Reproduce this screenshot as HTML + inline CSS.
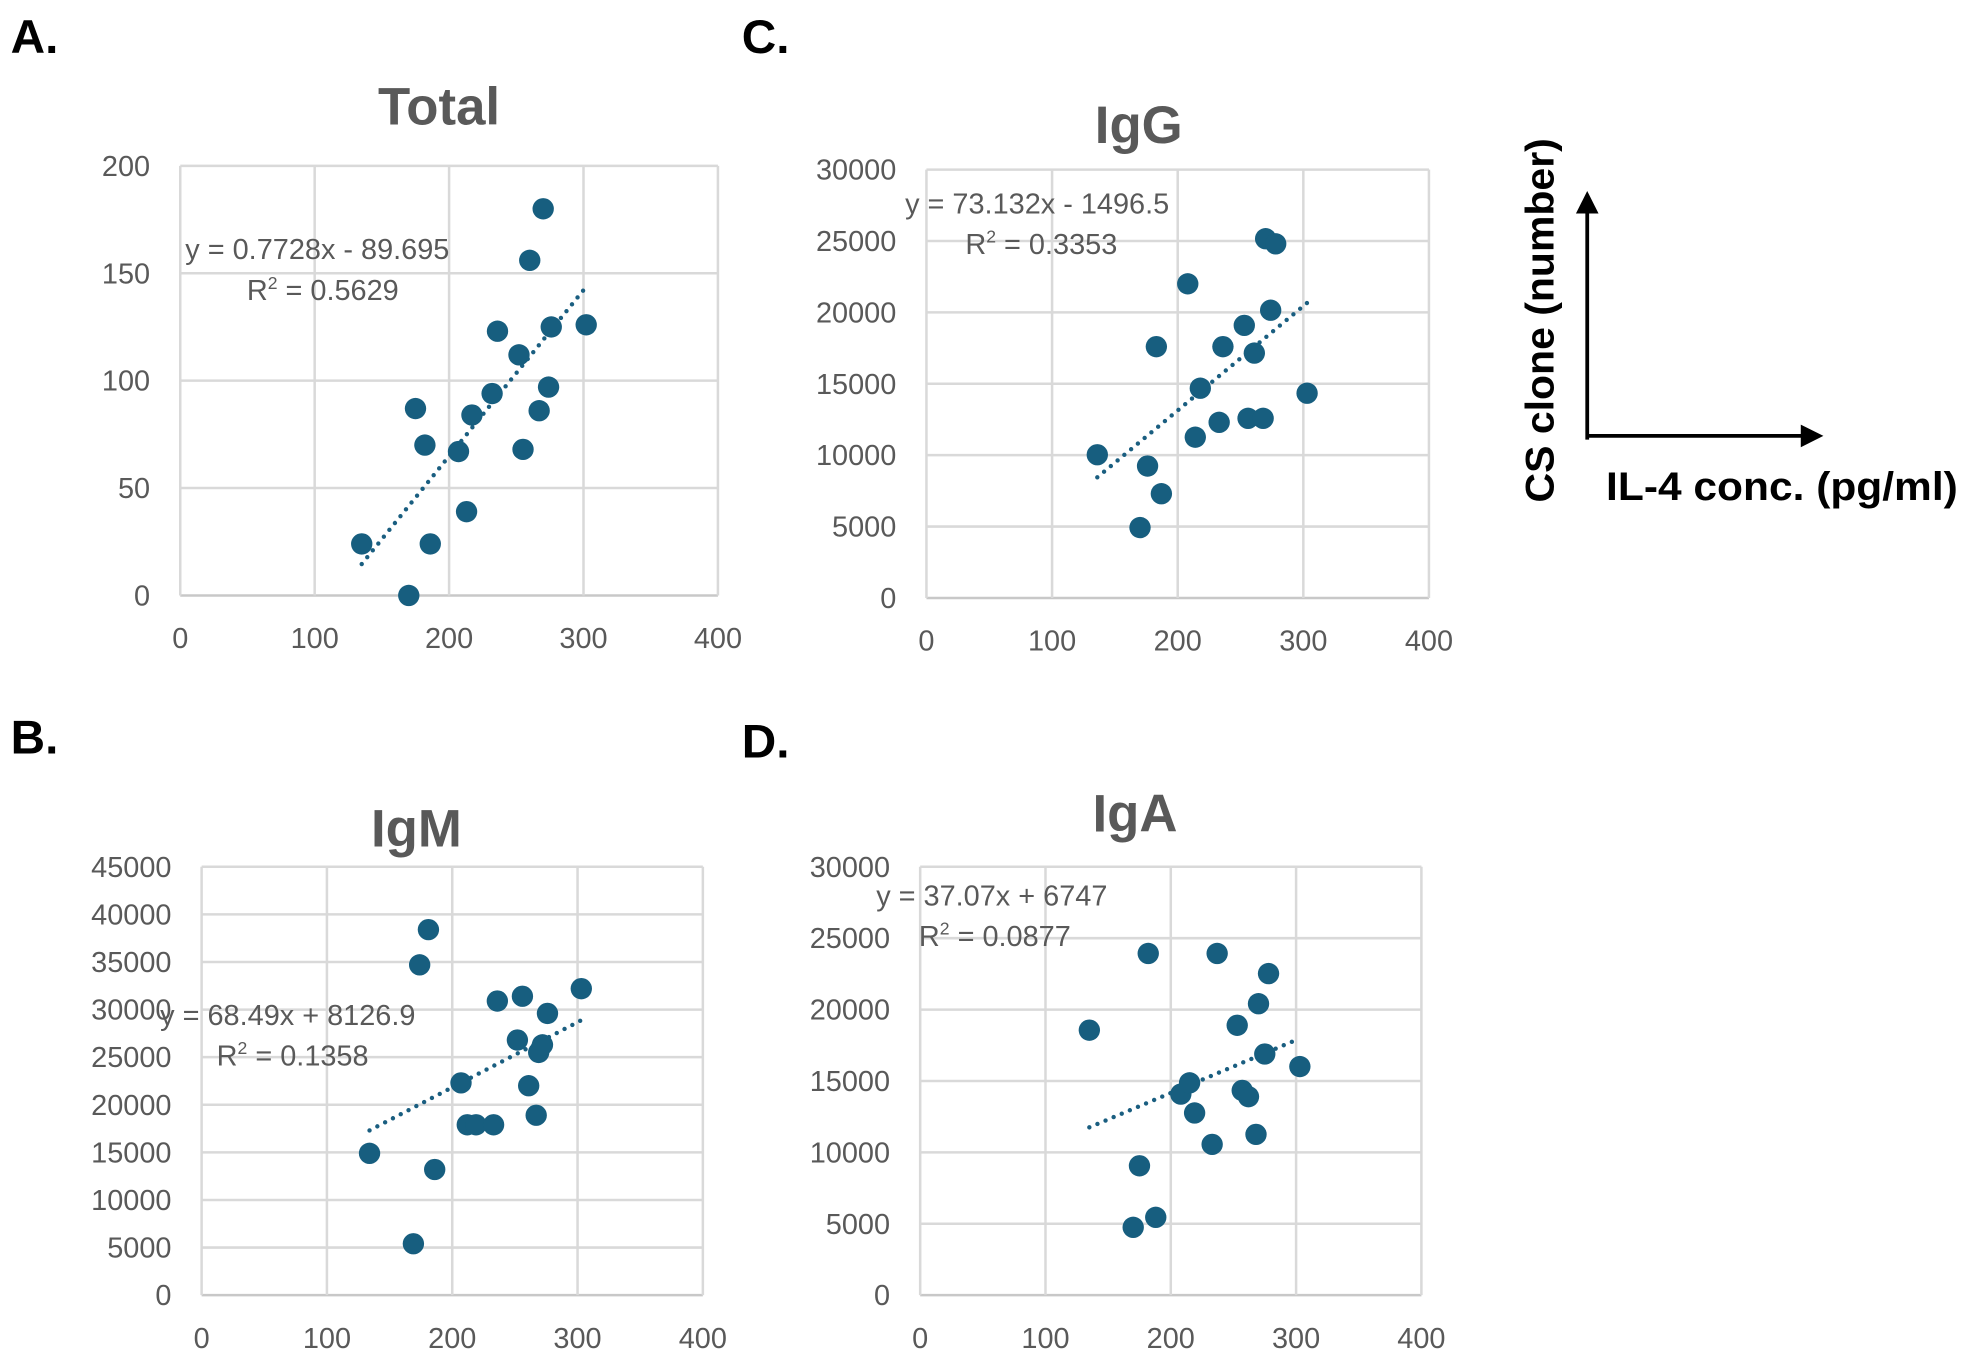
<!DOCTYPE html>
<html><head><meta charset="utf-8"><style>
html,body{margin:0;padding:0;background:#fff;}
svg{display:block;}
text{font-family:"Liberation Sans Narrow","Liberation Sans",sans-serif;}
</style></head><body>
<svg id="fig" width="1971" height="1363" viewBox="0 0 1568 1085" xmlns="http://www.w3.org/2000/svg">
<g id="static">
<text x="8" y="42" font-size="38" font-weight="bold" fill="#000">A.</text>
<text x="590" y="42" font-size="38" font-weight="bold" fill="#000">C.</text>
<text x="8" y="600" font-size="38" font-weight="bold" fill="#000">B.</text>
<text x="590" y="603" font-size="38" font-weight="bold" fill="#000">D.</text>
<line x1="1263" y1="350" x2="1263" y2="168" stroke="#000" stroke-width="3"/>
<polygon points="1263,152 1254,170 1272,170" fill="#000"/>
<line x1="1262" y1="347" x2="1434" y2="347" stroke="#000" stroke-width="3"/>
<polygon points="1451,347 1433,338 1433,356" fill="#000"/>
<text transform="translate(1236,255) rotate(-90)" text-anchor="middle" font-size="32" font-weight="bold" fill="#000" textLength="290" lengthAdjust="spacingAndGlyphs" style="font-family:'Liberation Sans','Noto Sans CJK JP',sans-serif">CS clone (number)</text>
<text x="1278" y="398" font-size="32" font-weight="bold" fill="#000" textLength="280" lengthAdjust="spacingAndGlyphs" style="font-family:'Liberation Sans','Noto Sans CJK JP',sans-serif">IL-4 conc. (pg/ml)</text>
</g>
</svg>
<script>
// ---- data ----
const xTicks = [0,100,200,300,400];
const totalX = [135,170,175,182,186,207,213,217,232,236,252,255,260,267,270,274,276,302];
const totalY = [24,0,87,70,24,67,39,84,94,123,112,68,156,86,180,97,125,126];
const totalTicks = [0,50,100,150,200];
const iggX = [136,170,176,183,187,208,214,218,233,236,253,256,261,268,270,274,278,303];
const iggY = [10030,4930,9240,17600,7300,22000,11260,14690,12300,17600,19090,12580,17150,12580,25160,20150,24800,14340];
const iggTicks = [0,5000,10000,15000,20000,25000,30000];
const igmX = [134,169,174,181,186,207,212,219,233,236,252,256,261,267,269,272,276,303];
const igmY = [14900,5400,34700,38400,13200,22300,17900,17900,17900,30900,26800,31400,22000,18900,25500,26300,29600,32200];
const igmTicks = [0,5000,10000,15000,20000,25000,30000,35000,40000,45000];
const igaX = [135,170,175,182,188,208,215,219,233,237,253,257,262,268,270,275,278,303];
const igaY = [18560,4750,9060,23930,5450,14080,14870,12760,10560,23930,18900,14340,13900,11260,20410,16890,22520,16010];
const igaTicks = [0,5000,10000,15000,20000,25000,30000];
const totalFit = [0.7728,-89.695];
const iggFit = [73.132,-1496.5];
const igmFit = [68.49,8126.9];
const igaFit = [37.07,6747];

const NS="http://www.w3.org/2000/svg";
const svg=document.getElementById('fig');
function mk(tag,attrs,parent){const e=document.createElementNS(NS,tag);for(const k in attrs)e.setAttribute(k,attrs[k]);(parent||svg).appendChild(e);return e;}

function panel(o){
  const g=mk('g',{});
  
  
  const yMax=o.yTicks[o.yTicks.length-1];
  const sx=v=>o.x0+(v-0)/400*(o.x1-o.x0);
  const sy=v=>o.y0-(v/yMax)*(o.y0-o.y1);
  o.yTicks.forEach(t=>{
    const l=mk('line',{x1:o.x0,x2:o.x1,y1:sy(t),y2:sy(t),stroke:t===0?'#c8c8c8':'#d9d9d9','stroke-width':2},g);
    
    
    const tx=mk('text',{x:o.x0-24,y:sy(t)+8,'text-anchor':'end','font-size':23,fill:'#595959'},g);
    tx.textContent=t;
    
    
  });
  xTicks.forEach(t=>{
    const l=mk('line',{x1:sx(t),x2:sx(t),y1:o.y0,y2:o.y1,stroke:'#d9d9d9','stroke-width':2},g);
    
    
    const tx=mk('text',{x:sx(t),y:o.y0+42,'text-anchor':'middle','font-size':23,fill:'#595959'},g);
    tx.textContent=t;
    
    
  });
  const title=mk('text',{x:o.tx,y:o.ty,'text-anchor':'middle','font-size':42,'font-weight':'bold',fill:'#595959'},g);
  title.textContent=o.title;
  
  
  const xmin=Math.min(...o.xs),xmax=Math.max(...o.xs);
  const tl=mk('line',{x1:sx(xmin),y1:sy(o.fit[0]*xmin+o.fit[1]),x2:sx(xmax),y2:sy(o.fit[0]*xmax+o.fit[1]),stroke:'#1a5e80','stroke-width':3.5,'stroke-dasharray':'0 7','stroke-linecap':'round'},g);
  
  
  o.xs.forEach((x,i)=>{
    const c=mk('circle',{cx:sx(x),cy:sy(o.ys[i]),r:8.5,fill:'#175e7f'},g);
    
    
  });
  const eq=mk('text',{x:o.ex,y:o.ey,'font-size':23,fill:'#595959'},g);
  eq.textContent=o.eq;
  
  
  const r2=mk('text',{x:o.rx,y:o.ry,'font-size':23,fill:'#595959'},g);
  r2.innerHTML='R<tspan dy="-9" font-size="14">2</tspan><tspan dy="9"> = '+o.r2+'</tspan>';
  
  
}
panel({name:'total',title:'Total',tx:349,ty:99,x0:143,x1:571,y0:474,y1:132,yTicks:totalTicks,xs:totalX,ys:totalY,fit:totalFit,eq:'y = 0.7728x - 89.695',ex:147,ey:206,rx:196,ry:239,r2:'0.5629'});
panel({name:'igg',title:'IgG',tx:906,ty:114,x0:737,x1:1137,y0:476,y1:135,yTicks:iggTicks,xs:iggX,ys:iggY,fit:iggFit,eq:'y = 73.132x - 1496.5',ex:720,ey:170,rx:768,ry:202,r2:'0.3353'});
panel({name:'igm',title:'IgM',tx:331,ty:674,x0:160,x1:559,y0:1031,y1:690,yTicks:igmTicks,xs:igmX,ys:igmY,fit:igmFit,eq:'y = 68.49x + 8126.9',ex:127,ey:816,rx:172,ry:848,r2:'0.1358'});
panel({name:'iga',title:'IgA',tx:903,ty:662,x0:732,x1:1131,y0:1031,y1:690,yTicks:igaTicks,xs:igaX,ys:igaY,fit:igaFit,eq:'y = 37.07x + 6747',ex:697,ey:721,rx:731,ry:753,r2:'0.0877'});
</script>
</body></html>
